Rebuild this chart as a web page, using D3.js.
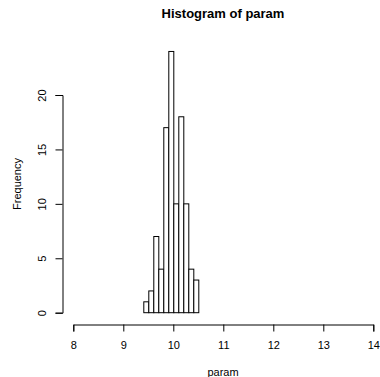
<!DOCTYPE html>
<html><head><meta charset="utf-8">
<script src="https://cdn.jsdelivr.net/npm/d3@7"></script>
<style>body{margin:0;background:#fff}svg{display:block;font-family:"Liberation Sans",Arial,sans-serif}</style>
</head><body><svg id="c" width="380" height="377"></svg>
<script>
const binStarts = [9.4, 9.5, 9.6, 9.7, 9.8, 9.9, 10.0, 10.1, 10.2, 10.3, 10.4];
const binWidth = 0.1;
const counts = [1, 2, 7, 4, 17, 24, 10, 18, 10, 4, 3];
const xTicks = [8, 9, 10, 11, 12, 13, 14];
const yTicks = [0, 5, 10, 15, 20];
const title = "Histogram of param";
const xLabel = "param";
const yLabel = "Frequency";

const svg = d3.select("#c");
const x = d3.scaleLinear().domain([8, 14]).range([73.3, 373.3]);
const y = d3.scaleLinear().domain([0, 20]).range([312.7, 95]);

svg.append("g").selectAll("rect").data(binStarts).join("rect")
  .attr("x", (d) => x(d) + 0.5)
  .attr("width", (d) => x(d + binWidth) - x(d))
  .attr("y", (d, i) => y(counts[i]))
  .attr("height", (d, i) => y(0) - y(counts[i]))
  .attr("fill", "#fff").attr("stroke", "#000").attr("stroke-width", 1);

const xAxis = svg.append("g").attr("transform", "translate(0,324.5)")
  .call(d3.axisBottom(x).tickValues(xTicks).tickFormat(d3.format("d")).tickSizeOuter(0).tickSize(7).tickPadding(10));
const yAxis = svg.append("g").attr("transform", "translate(62.5,0)")
  .call(d3.axisLeft(y).tickValues(yTicks).tickFormat(d3.format("d")).tickSizeOuter(0).tickSize(7));
[xAxis, yAxis].forEach(g => {
  g.selectAll("path.domain").attr("stroke", "#000");
  g.selectAll(".tick line").attr("stroke", "#000");
  g.selectAll("text").attr("font-family", "Liberation Sans, Arial, sans-serif").attr("font-size", 11).attr("fill", "#000");
});
yAxis.selectAll(".tick text")
  .attr("x", null).attr("dy", null)
  .attr("text-anchor", "middle")
  .attr("transform", "translate(-20,0) rotate(-90)")
  .attr("dy", "0.35em");

svg.append("text").attr("x", 223).attr("y", 18).attr("text-anchor", "middle")
  .attr("font-weight", "bold").attr("font-size", 13).text(title);
svg.append("text").attr("x", 223).attr("y", 376).attr("text-anchor", "middle")
  .attr("font-size", 11).text(xLabel);
svg.append("text").attr("transform", "translate(20.5,184) rotate(-90)").attr("text-anchor", "middle")
  .attr("font-size", 11).text(yLabel);
</script></body></html>
